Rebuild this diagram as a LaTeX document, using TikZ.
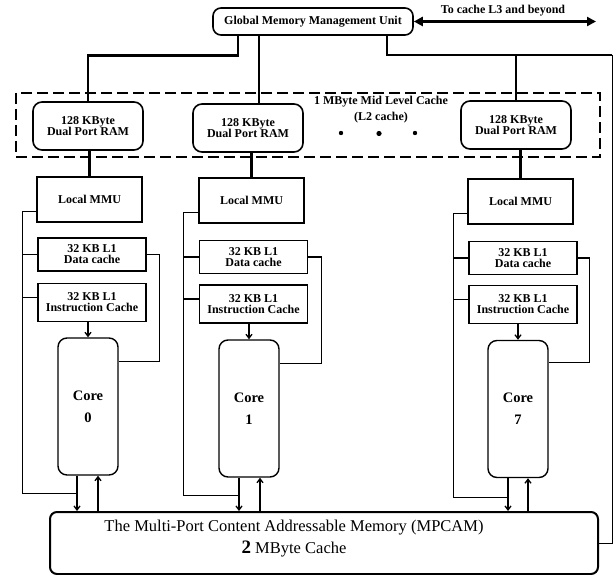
\documentclass[tikz,border=0pt]{standalone}
\usepackage{fontspec}
\setmainfont{Liberation Serif}
\usetikzlibrary{arrows.meta, positioning}

\begin{document}
\begin{tikzpicture}[x=1pt, y=-1pt,
  lbl/.style={font=\bfseries\fontsize{12}{11}\selectfont, align=center, inner sep=0pt},
  rambox/.style={rectangle, draw=black, line width=1.6pt, rounded corners=9pt,
    minimum width=110pt, minimum height=48pt, lbl},
  gmmubox/.style={rambox, rounded corners=8pt, minimum width=200pt, minimum height=27pt},
  mmubox/.style={rectangle, draw=black, line width=1.6pt,
    minimum width=105pt, minimum height=45pt, lbl},
  dcbox/.style={rectangle, draw=black, line width=1.6pt,
    minimum width=108pt, minimum height=33pt, lbl},
  icbox/.style={dcbox, minimum height=38pt},
  corebox/.style={rectangle, draw=black, line width=1.4pt, rounded corners=9pt,
    minimum width=60pt, minimum height=137pt, align=center,
    font=\bfseries\fontsize{14.5}{22}\selectfont},
  mpcambox/.style={rectangle, draw=black, line width=2pt, rounded corners=7pt,
    minimum width=548pt, minimum height=62pt},
  link/.style={line width=2.8pt},
  bus/.style={line width=1.3pt},
  arr/.style={bus, -{Straight Barb[length=4pt,width=6pt]}},
  l2frame/.style={line width=2.4pt, dash pattern=on 11pt off 5pt}
]
  \useasboundingbox (0,0) rectangle (613,575);

  \node[gmmubox] (gmmu) at (313,21.5) {Global Memory Management Unit};
  \node[lbl]     (l3txt) at (503,11) {To cache L3 and beyond};
  \coordinate (l3)   at (596,21.5);
  \coordinate (edge) at (612,55);

  \node[rambox] (ram0) at (88,126)  {128 KByte\\Dual Port RAM};
  \node[rambox] (ram1) at (248,128) {128 KByte\\Dual Port RAM};
  \node[rambox] (ram7) at (516,125) {128 KByte\\Dual Port RAM};
  \node[lbl, font=\bfseries\fontsize{12}{16}\selectfont] (l2txt) at (381,110)
    {1 MByte Mid Level Cache\\(L2 cache)};

  \node[mmubox] (mmu0) at (89.5,199.5) {Local MMU};
  \node[mmubox] (mmu1) at (251.5,200.5) {Local MMU};
  \node[mmubox] (mmu7) at (520.5,201.5) {Local MMU};

  \node[dcbox] (dc0) at (92,254.5)  {32 KB L1\\Data cache};
  \node[dcbox] (dc1) at (253.5,257) {32 KB L1\\Data cache};
  \node[dcbox] (dc7) at (523,258)   {32 KB L1\\Data cache};

  \node[icbox] (ic0) at (92,302.5)  {32 KB L1\\Instruction Cache};
  \node[icbox] (ic1) at (253.5,304) {32 KB L1\\Instruction Cache};
  \node[icbox] (ic7) at (523,304.5) {32 KB L1\\Instruction Cache};

  \node[corebox] (core0) at (88,406.5)  {Core\\0};
  \node[corebox] (core1) at (249,408.5) {Core\\1};
  \node[corebox] (core7) at (518,409)   {Core\\7};

  \node[mpcambox] (mpcam) at (324,543) {};
  \node[font=\fontsize{16.5}{22}\selectfont, align=center] (mpcamtxt) at (294,539)
    {The Multi-Port Content Addressable Memory (MPCAM)\\
     {\bfseries\fontsize{19}{22}\selectfont 2} MByte Cache};

  \draw[l2frame] (16,93) rectangle (600,157);
  \fill (341,133) circle (2.2pt);
  \fill (379,133.5) circle (2.6pt);
  \fill (415,133) circle (2.2pt);

  \draw[link, {Triangle[length=9pt,width=9pt]}-{Triangle[length=9pt,width=9pt]}] (gmmu.east) -- (l3);
  \draw[link] ([xshift=-75pt]gmmu.south) -- ++(0,20) -| (ram0.north);
  \draw[link] ([xshift=-54pt]gmmu.south) -- ([xshift=-54pt]gmmu.south |- ram1.north);
  \draw[link] ([xshift=74pt]gmmu.south) |- (edge);
  \draw[link] (ram7.north |- edge) -- (ram7.north);
  \draw[line width=1pt] (edge) |- (mpcam.east);

  \draw[link] (mmu0.north |- ram0.south) -- (mmu0.north);
  \draw[link] (mmu1.north |- ram1.south) -- (mmu1.north);
  \draw[link] (mmu7.north |- ram7.south) -- (mmu7.north);

  \draw[bus] ([yshift=-12pt]mmu0.west) -- ++(-14,0) coordinate (bus0) |- ([xshift=-11pt,yshift=-18pt]core0.south);
  \draw[bus] (dc0.west) -- (dc0.west -| bus0);
  \draw[bus] ([yshift=5pt]ic0.west) -- ([yshift=5pt]ic0.west -| bus0);
  \draw[bus] (dc0.east) -- ++(13,0) |- ([yshift=-24pt]core0.north east);
  \draw[arr] (ic0.south -| core0.north) -- (core0.north);
  \draw[arr] ([xshift=-11pt]core0.south) -- ([xshift=-11pt]core0.south |- mpcam.north);
  \draw[arr] ([xshift=10pt]core0.south |- mpcam.north) -- ([xshift=10pt]core0.south);

  \draw[bus] ([yshift=-12pt]mmu1.west) -- ++(-15,0) coordinate (bus1) |- ([xshift=-10pt,yshift=-18pt]core1.south);
  \draw[bus] (dc1.west) -- (dc1.west -| bus1);
  \draw[bus] ([yshift=5pt]ic1.west) -- ([yshift=5pt]ic1.west -| bus1);
  \draw[bus] (dc1.east) -- ++(13,0) |- ([yshift=-24pt]core1.north east);
  \draw[arr] (ic1.south -| core1.north) -- (core1.north);
  \draw[arr] ([xshift=-10pt]core1.south) -- ([xshift=-10pt]core1.south |- mpcam.north);
  \draw[arr] ([xshift=11pt]core1.south |- mpcam.north) -- ([xshift=11pt]core1.south);

  \draw[bus] ([yshift=-12pt]mmu7.west) -- ++(-14,0) coordinate (bus7) |- ([xshift=-10pt,yshift=-19pt]core7.south);
  \draw[bus] (dc7.west) -- (dc7.west -| bus7);
  \draw[bus] ([yshift=5pt]ic7.west) -- ([yshift=5pt]ic7.west -| bus7);
  \draw[bus] (dc7.east) -- ++(12,0) |- ([yshift=-23pt]core7.north east);
  \draw[arr] (ic7.south -| core7.north) -- (core7.north);
  \draw[arr] ([xshift=-10pt]core7.south) -- ([xshift=-10pt]core7.south |- mpcam.north);
  \draw[arr] ([xshift=10pt]core7.south |- mpcam.north) -- ([xshift=10pt]core7.south);
\end{tikzpicture}
\end{document}
